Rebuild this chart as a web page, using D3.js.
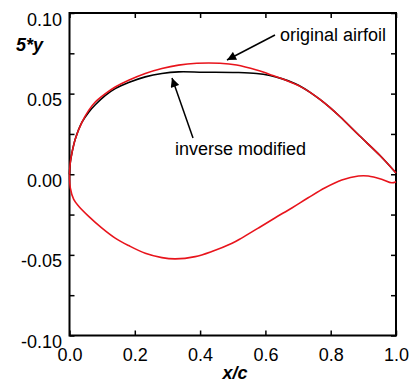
<!DOCTYPE html>
<meta charset="utf-8">
<style>
body { margin: 0; background: #fff; }
svg { font-family: "Liberation Sans", Arial, sans-serif; }
.axis text { font-size: 18px; fill: #000; }
.axis line { stroke: #000; stroke-width: 1.5; }
.axis path { display: none; }
.note { font-size: 18px; fill: #000; }
.title { font-size: 18px; font-weight: bold; font-style: italic; }
</style>
<body>
<svg width="412" height="383"></svg>
<script src="https://cdnjs.cloudflare.com/ajax/libs/d3/7.8.5/d3.min.js"></script>
<script>

// original airfoil, upper surface (x/c, 5*y)
var origUpper = [
  [0, 0], [0.0025, 0.0073], [0.0077, 0.0135], [0.0178, 0.0219], [0.0383, 0.0323],
  [0.0588, 0.0396], [0.079, 0.0448], [0.110, 0.0500], [0.140, 0.0541], [0.181, 0.0583],
  [0.232, 0.0625], [0.283, 0.0656], [0.334, 0.0677], [0.390, 0.0688], [0.461, 0.0688],
  [0.512, 0.0677], [0.573, 0.0646], [0.623, 0.0612], [0.670, 0.0577], [0.706, 0.0545],
  [0.737, 0.0508], [0.767, 0.0464], [0.798, 0.0413], [0.828, 0.0358], [0.889, 0.0237],
  [0.951, 0.0116], [1.0, 0.0008]
];

// lower surface (same for both)
var lower = [
  [0, 0], [0.0025, -0.0084], [0.0129, -0.0156], [0.0282, -0.0198], [0.0588, -0.0261],
  [0.0995, -0.0334], [0.140, -0.0396], [0.181, -0.0442], [0.232, -0.0490], [0.283, -0.0517],
  [0.324, -0.0525], [0.385, -0.0511], [0.436, -0.0479], [0.498, -0.0428], [0.527, -0.0396],
  [0.578, -0.0334], [0.629, -0.0271], [0.681, -0.0209], [0.731, -0.0146], [0.783, -0.0084],
  [0.834, -0.0036], [0.885, -0.0011], [0.915, -0.0011], [0.956, -0.0031], [0.987, -0.0053],
  [1.0, -0.0046]
];

// inverse modified, upper surface
var invUpper = [
  [0, 0], [0.0025, 0.0073], [0.0077, 0.0135], [0.0178, 0.0219], [0.0383, 0.0323],
  [0.0588, 0.0385], [0.079, 0.0431], [0.110, 0.0489], [0.140, 0.0531], [0.181, 0.0569],
  [0.232, 0.0604], [0.283, 0.0625], [0.334, 0.0635], [0.410, 0.0633], [0.512, 0.0631],
  [0.573, 0.0625], [0.614, 0.0612], [0.650, 0.0593], [0.690, 0.0563], [0.716, 0.0535],
  [0.737, 0.0508], [0.767, 0.0464], [0.798, 0.0413], [0.828, 0.0358], [0.889, 0.0237],
  [0.951, 0.0116], [1.0, 0.0008]
];

var xTicks = [0, 0.2, 0.4, 0.6, 0.8, 1.0];
var yTicks = [-0.10, -0.05, 0.00, 0.05, 0.10];
var yMinor = [-0.075, -0.025, 0.025, 0.075];

var svg = d3.select("svg"),
    margin = {top: 13, right: 16, bottom: 47.5, left: 69.5},
    width = +svg.attr("width") - margin.left - margin.right,
    height = +svg.attr("height") - margin.top - margin.bottom;

var x = d3.scaleLinear().domain([0, 1]).range([0, width]),
    y = d3.scaleLinear().domain([-0.1, 0.1]).range([height, 0]);

var g = svg.append("g")
    .attr("transform", "translate(" + margin.left + "," + margin.top + ")");

var fmtY = function(d) { return d3.format(".2f")(d).replace("−", "-"); };

// left axis
g.append("g").attr("class", "axis")
    .call(d3.axisLeft(y).tickValues(yTicks).tickFormat(fmtY).tickSizeInner(-5).tickSizeOuter(0).tickPadding(7.5))
  .selectAll("text").attr("dy", 12);
g.append("g").attr("class", "axis")
    .call(d3.axisLeft(y).tickValues(yMinor).tickFormat("").tickSizeInner(-5).tickSizeOuter(0));

// right axis
g.append("g").attr("class", "axis")
    .attr("transform", "translate(" + width + ",0)")
    .call(d3.axisRight(y).tickValues(yTicks.concat(yMinor)).tickFormat("").tickSizeInner(-5).tickSizeOuter(0));

// bottom axis
g.append("g").attr("class", "axis")
    .attr("transform", "translate(0," + height + ")")
    .call(d3.axisBottom(x).tickValues(xTicks).tickFormat(d3.format(".1f")).tickSizeInner(-5).tickSizeOuter(0).tickPadding(13));

// top axis
g.append("g").attr("class", "axis")
    .call(d3.axisTop(x).tickValues(xTicks).tickFormat("").tickSizeInner(-5).tickSizeOuter(0));

// frame
g.append("rect")
    .attr("width", width).attr("height", height)
    .attr("fill", "none").attr("stroke", "#000").attr("stroke-width", 2);

var line = d3.line()
    .x(function(d) { return x(d[0]); })
    .y(function(d) { return y(d[1]); })
    .curve(d3.curveCatmullRom);

g.append("path").datum(invUpper)
    .attr("d", line).attr("fill", "none").attr("stroke", "#000").attr("stroke-width", 1.6);
g.append("path").datum(origUpper)
    .attr("d", line).attr("fill", "none").attr("stroke", "#e8141c").attr("stroke-width", 1.6);
g.append("path").datum(lower)
    .attr("d", line).attr("fill", "none").attr("stroke", "#e8141c").attr("stroke-width", 1.6);

// axis titles
svg.append("text").attr("class", "title")
    .attr("x", 235).attr("y", 379).attr("text-anchor", "middle").text("x/c");
svg.append("text").attr("class", "title")
    .attr("x", 16).attr("y", 51).text("5*y");

// annotations
svg.append("defs").append("marker")
    .attr("id", "head").attr("viewBox", "0 0 10 10")
    .attr("refX", 10).attr("refY", 5)
    .attr("markerWidth", 11).attr("markerHeight", 9)
    .attr("markerUnits", "userSpaceOnUse")
    .attr("orient", "auto")
  .append("path").attr("d", "M0,0 L10,5 L0,10 Z").attr("fill", "#000");

svg.append("line")
    .attr("x1", 275).attr("y1", 35).attr("x2", 227).attr("y2", 60)
    .attr("stroke", "#000").attr("stroke-width", 1.5).attr("marker-end", "url(#head)");
svg.append("text").attr("class", "note")
    .attr("x", 280).attr("y", 41).text("original airfoil");

svg.append("line")
    .attr("x1", 193).attr("y1", 138).attr("x2", 172).attr("y2", 78)
    .attr("stroke", "#000").attr("stroke-width", 1.5).attr("marker-end", "url(#head)");
svg.append("text").attr("class", "note")
    .attr("x", 175).attr("y", 155).text("inverse modified");

</script>
</body>
